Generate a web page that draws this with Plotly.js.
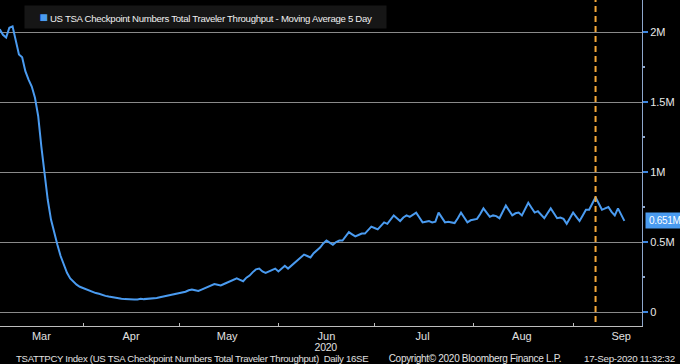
<!DOCTYPE html>
<html>
<head>
<meta charset="utf-8">
<script src="https://cdn.plot.ly/plotly-3.0.1.min.js"></script>
<style>
html,body{margin:0;padding:0;background:#000;}
#chart{width:680px;height:364px;}
#chart .annotation-text{letter-spacing:-0.3px;}
</style>
</head>
<body>
<div id="chart"></div>
<script>
// Daily 5-day moving average of TSA throughput, in millions, starting 2020-03-06
const startDate = '2020-03-06';
const marchVals = [2.02,1.98,1.96,2.03,2.04,1.93,1.84,1.82,1.72,1.66,1.61,1.53,1.40,1.18,0.97,0.80,0.66,0.56,0.48,0.40,0.34,0.28,0.24,0.215,0.195,0.18];
const aprilVals = [0.17,0.16,0.15,0.14,0.135,0.13,0.12,0.115,0.11,0.105,0.10,0.098,0.095,0.092,0.09,0.092,0.09,0.09,0.095,0.092,0.093,0.097,0.10,0.10,0.105,0.11,0.115,0.115,0.12,0.13];
const mayVals = [0.135,0.14,0.145,0.155,0.16,0.155,0.15,0.16,0.17,0.18,0.19,0.20,0.195,0.19,0.20,0.21,0.22,0.235,0.24,0.23,0.22,0.245,0.26,0.285,0.305,0.31,0.29,0.28,0.29,0.305,0.31];
const juneVals = [0.29,0.31,0.33,0.31,0.33,0.35,0.37,0.39,0.41,0.40,0.39,0.42,0.44,0.46,0.49,0.51,0.495,0.48,0.50,0.51,0.51,0.54,0.57,0.555,0.54,0.55,0.56,0.56,0.585,0.61];
const julyVals = [0.60,0.59,0.615,0.64,0.63,0.66,0.69,0.67,0.65,0.675,0.69,0.68,0.695,0.71,0.675,0.64,0.645,0.65,0.64,0.645,0.71,0.675,0.64,0.645,0.64,0.635,0.67,0.71,0.675,0.64,0.655];
const augustVals = [0.66,0.665,0.70,0.74,0.71,0.68,0.69,0.685,0.67,0.72,0.76,0.725,0.69,0.705,0.71,0.69,0.735,0.78,0.745,0.71,0.72,0.695,0.67,0.705,0.74,0.705,0.67,0.675,0.665,0.63,0.67];
const septemberVals = [0.71,0.68,0.65,0.69,0.73,0.73,0.775,0.82,0.775,0.73,0.74,0.75,0.715,0.69,0.74,0.695,0.651];

const yTickVals = [0,0.5,1,1.5,2];
const yTickText = ['0','0.5M','1M','1.5M','2M'];
const monthStarts = ['2020-04-01','2020-05-01','2020-06-01','2020-07-01','2020-08-01','2020-09-01'];
const monthLabelPos = ['2020-03-19','2020-04-16','2020-05-16','2020-06-16','2020-07-16','2020-08-16','2020-09-16'];
const monthLabels = ['Mar','Apr','May','Jun','Jul','Aug','Sep'];
const yearLabel = '2020';
const yearLabelPos = '2020-06-16';
const eventDates = ['2020-09-08'];
const lastValueLabel = '0.651M';

const values = [].concat(marchVals,aprilVals,mayVals,juneVals,julyVals,augustVals,septemberVals);
const dates = [];
{
  const d0 = new Date(startDate + 'T00:00:00Z');
  for (let i = 0; i < values.length; i++) {
    const d = new Date(d0.getTime() + i*86400000);
    dates.push(d.toISOString().slice(0,10));
  }
}

const fontFam = 'Arial, "Liberation Sans", sans-serif';
const lineBlue = '#4a9bf0';
const footY = -32/326;

const trace = {
  x: dates, y: values, type: 'scatter', mode: 'lines',
  line: {color: lineBlue, width: 2}, showlegend: false, hoverinfo: 'skip'
};

const layout = {
  width: 680, height: 364,
  margin: {l: 0, r: 38, t: 0, b: 38},
  paper_bgcolor: '#000', plot_bgcolor: '#000',
  font: {family: fontFam, color: '#e0e0e0', size: 11},
  showlegend: false,
  xaxis: {
    type: 'date',
    range: ['2020-03-06 02:00', '2020-09-22 12:00'],
    tickmode: 'array', tickvals: monthLabelPos, ticktext: monthLabels,
    ticks: '', showgrid: false, zeroline: false,
    showline: true, linecolor: '#bdbdbd', linewidth: 1,
    tickfont: {family: fontFam, size: 11, color: '#e0e0e0'},
    minor: {tickmode: 'array', tickvals: monthStarts, ticks: 'inside', ticklen: 3, tickcolor: '#bdbdbd', showgrid: false}
  },
  yaxis: {
    side: 'right',
    range: [-0.1, 2.2286],
    tickmode: 'array', tickvals: yTickVals, ticktext: yTickText,
    ticks: 'outside', ticklen: 5, tickwidth: 2, tickcolor: '#3d86e0',
    showgrid: true, gridcolor: '#8a8a8a', gridwidth: 1, zeroline: false,
    showline: true, linecolor: '#8ea7cc', linewidth: 1,
    tickfont: {family: fontFam, size: 11, color: '#e8e8e8'},
    minor: {dtick: 0.25, ticks: 'outside', ticklen: 2, tickcolor: '#8ea7cc', showgrid: false}
  },
  shapes: eventDates.map(d => ({
    type: 'line', xref: 'x', yref: 'paper', x0: d, x1: d, y0: 0.012, y1: 1,
    line: {color: '#f5a83a', width: 2, dash: '6px,4px'}
  })),
  annotations: [
    {
      xref: 'paper', yref: 'paper', x: 24/642, y: 1 - 5/326, xanchor: 'left', yanchor: 'top',
      text: '<span style="color:' + lineBlue + ';font-size:14px">■</span> US TSA Checkpoint Numbers Total Traveler Throughput - Moving Average 5 Day',
      showarrow: false, bgcolor: '#161616', borderpad: 3,
      font: {family: fontFam, size: 9.65, color: '#f0f0f0'}
    },
    {
      xref: 'paper', yref: 'y', x: 1.004, y: values[values.length-1], xanchor: 'left', yanchor: 'middle',
      text: lastValueLabel, showarrow: false, bgcolor: '#4a9bf0', borderpad: 2,
      font: {family: fontFam, size: 10, color: '#ffffff'}
    },
    {
      xref: 'x', yref: 'paper', x: yearLabelPos, y: -20.5/326, xanchor: 'center', yanchor: 'middle',
      text: yearLabel, showarrow: false, font: {family: fontFam, size: 10.5, color: '#e0e0e0'}
    },
    {
      xref: 'paper', yref: 'paper', x: 2/642, y: footY, xanchor: 'left', yanchor: 'middle',
      text: 'TSATTPCY Index (US TSA Checkpoint Numbers Total Traveler Throughput)  Daily 16SE',
      showarrow: false, font: {family: fontFam, size: 9.65, color: '#e0e0e0'}
    },
    {
      xref: 'paper', yref: 'paper', x: 381/642, y: footY, xanchor: 'left', yanchor: 'middle',
      text: 'Copyright© 2020 Bloomberg Finance L.P.',
      showarrow: false, font: {family: fontFam, size: 10, color: '#e0e0e0'}
    },
    {
      xref: 'paper', yref: 'paper', x: 680/642, y: footY, xanchor: 'right', yanchor: 'middle',
      text: '17-Sep-2020 11:32:32',
      showarrow: false, font: {family: fontFam, size: 9.8, color: '#e0e0e0'}
    }
  ]
};

Plotly.newPlot('chart', [trace], layout, {displayModeBar: false, staticPlot: true});
</script>
</body>
</html>
